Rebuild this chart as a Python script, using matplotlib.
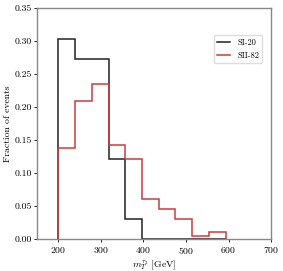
import numpy as np
import matplotlib
matplotlib.use("Agg")
import matplotlib.pyplot as plt
from matplotlib.lines import Line2D

plt.rcParams['font.family'] = 'serif'
plt.rcParams['font.serif'] = ['cmr10', 'DejaVu Serif']
plt.rcParams['mathtext.fontset'] = 'cm'
plt.rcParams['axes.formatter.use_mathtext'] = True

edges = np.linspace(200, 593, 11)
si20 = [0.303, 0.273, 0.273, 0.121, 0.030, 0, 0, 0, 0, 0]
sii82 = [0.138, 0.209, 0.235, 0.143, 0.122, 0.061, 0.046, 0.030, 0.005, 0.010]
colors = ['#222222', '#cc3b3f']
names = ['SI-20', 'SII-82']

fig = plt.figure(figsize=(2.83, 2.71), dpi=100)
ax = fig.add_axes([0.131, 0.118, 0.827, 0.852])

centers = (edges[:-1] + edges[1:]) / 2
ax.hist(centers, bins=edges, weights=si20, histtype='step', color=colors[0], lw=1.1)
ax.hist(centers, bins=edges, weights=sii82, histtype='step', color=colors[1], lw=1.1)

ax.set_xlim(150, 700)
ax.set_ylim(0, 0.35)
ax.set_xticks([200, 300, 400, 500, 600, 700])
ax.set_yticks(np.arange(0, 0.351, 0.05))
ax.yaxis.set_major_formatter(matplotlib.ticker.FormatStrFormatter('%.2f'))
ax.tick_params(labelsize=7, length=2, width=0.6, pad=2)
for s in ax.spines.values():
    s.set_color('#888888')
    s.set_linewidth(1.0)
ax.set_xlabel(r'$m_T^{\tau_2}$ [GeV]', fontsize=7)
ax.set_ylabel('Fraction of events', fontsize=7)
ax.xaxis.set_label_coords(0.5, -0.085)
ax.yaxis.set_label_coords(-0.105, 0.5)
handles = [Line2D([], [], color=c, lw=1.1) for c in colors]
ax.legend(handles, names, loc='upper right', bbox_to_anchor=(0.98, 0.9), fontsize=6,
          handlelength=1.6, frameon=True, framealpha=1, edgecolor='#dddddd', fancybox=True)

fig.savefig('out.png', dpi=100)
